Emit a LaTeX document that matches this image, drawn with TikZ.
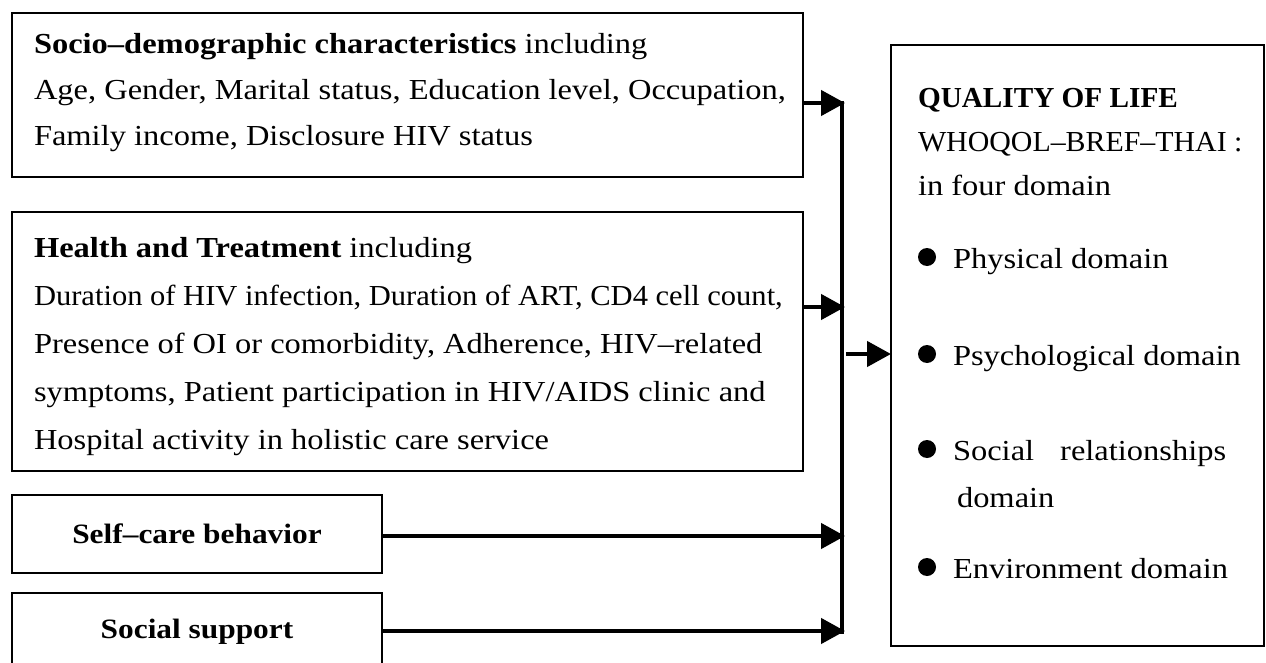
\documentclass[tikz,border=0pt]{standalone}
\usepackage{fontspec}
\setmainfont{Liberation Serif}[FakeStretch=1.12]
\usetikzlibrary{arrows.meta}
\begin{document}
\begin{tikzpicture}[x=1pt,y=-1pt]
	\tikzstyle{box} = [draw, line width=2.6pt, inner sep=0, outer sep=0, anchor=north west]
	\tikzstyle{txt} = [inner sep=0, outer sep=0, anchor=base west, font=\fontsize{29}{32}\selectfont]
	\tikzstyle{arr} = [-{Triangle[length=24pt,width=25pt]}, line width=4.5pt]
	\tikzstyle{bus} = [line width=4pt]
	\useasboundingbox (0,0) rectangle (1266,663);
	
	% factor boxes
	\node [box, minimum width=791pt, minimum height=164pt] (socio) at (12,13) {};
	\node [box, minimum width=791pt, minimum height=259pt] (health) at (12,212) {};
	\node [box, minimum width=370pt, minimum height=78pt, font=\fontsize{28}{32}\selectfont\bfseries] (self) at (12,495) {Self–care behavior};
	\node [box, minimum width=370pt, minimum height=78pt, font=\fontsize{28}{32}\selectfont\bfseries] (support) at (12,593) {Social support};
	\node [box, minimum width=373pt, minimum height=601pt] (qol) at (891,45) {};
	
	\node [txt] (s0) at (34,54) {\textbf{Socio–demographic characteristics} including};
	\foreach \t [count=\i] in {{Age, Gender, Marital status, Education level, Occupation,},{Family income, Disclosure HIV status}}
	{
		\node [txt] (s\i) at (34,54+\i*46) {\t};
	}
	\node [txt] (h0) at (34,258) {\textbf{Health and Treatment} including};
	\foreach \t [count=\i] in {{\scalebox{0.94}[1]{Duration of HIV infection, Duration of ART, CD4 cell count,}},{Presence of OI or comorbidity, Adherence, HIV–related},{symptoms, Patient participation in HIV/AIDS clinic and},{Hospital activity in holistic care service}}
	{
		\node [txt] (h\i) at (34,258+\i*47.8) {\t};
	}
	
	% quality of life
	\node [txt] (q0) at (918,108) {\scalebox{0.9}[1]{\textbf{QUALITY OF LIFE}}};
	\node [txt] (q1) at (918,152) {\scalebox{0.92}[1]{WHOQOL–BREF–THAI :}};
	\node [txt] (q2) at (918,196) {in four domain};
	\node [txt] (d1) at (953,268) {Physical domain};
	\node [txt] (d2) at (953,365) {Psychological domain};
	\node [txt] (d3) at (953,460) {Social\hspace{26pt}relationships};
	\node [txt] (d3b) at (957,507) {domain};
	\node [txt] (d4) at (953,578) {Environment domain};
	\foreach \y in {257,354,449,567}
	{
		\fill (927,\y) circle (9pt);
	}
	
	% connectors
	\coordinate (b1) at (845,103);
	\coordinate (b2) at (845,307);
	\coordinate (b3) at (845,536);
	\coordinate (b4) at (845,631);
	\coordinate (out) at (846,354);
	\draw [bus] (842,101) -- (842,633.5);
	\draw [arr] (socio.east |- b1) -- (b1);
	\draw [arr] (health.east |- b2) -- (b2);
	\draw [arr] (self.east |- b3) -- (b3);
	\draw [arr] (support.east |- b4) -- (b4);
	\draw [arr] (out) -- (out -| qol.west);
\end{tikzpicture}
\end{document}
